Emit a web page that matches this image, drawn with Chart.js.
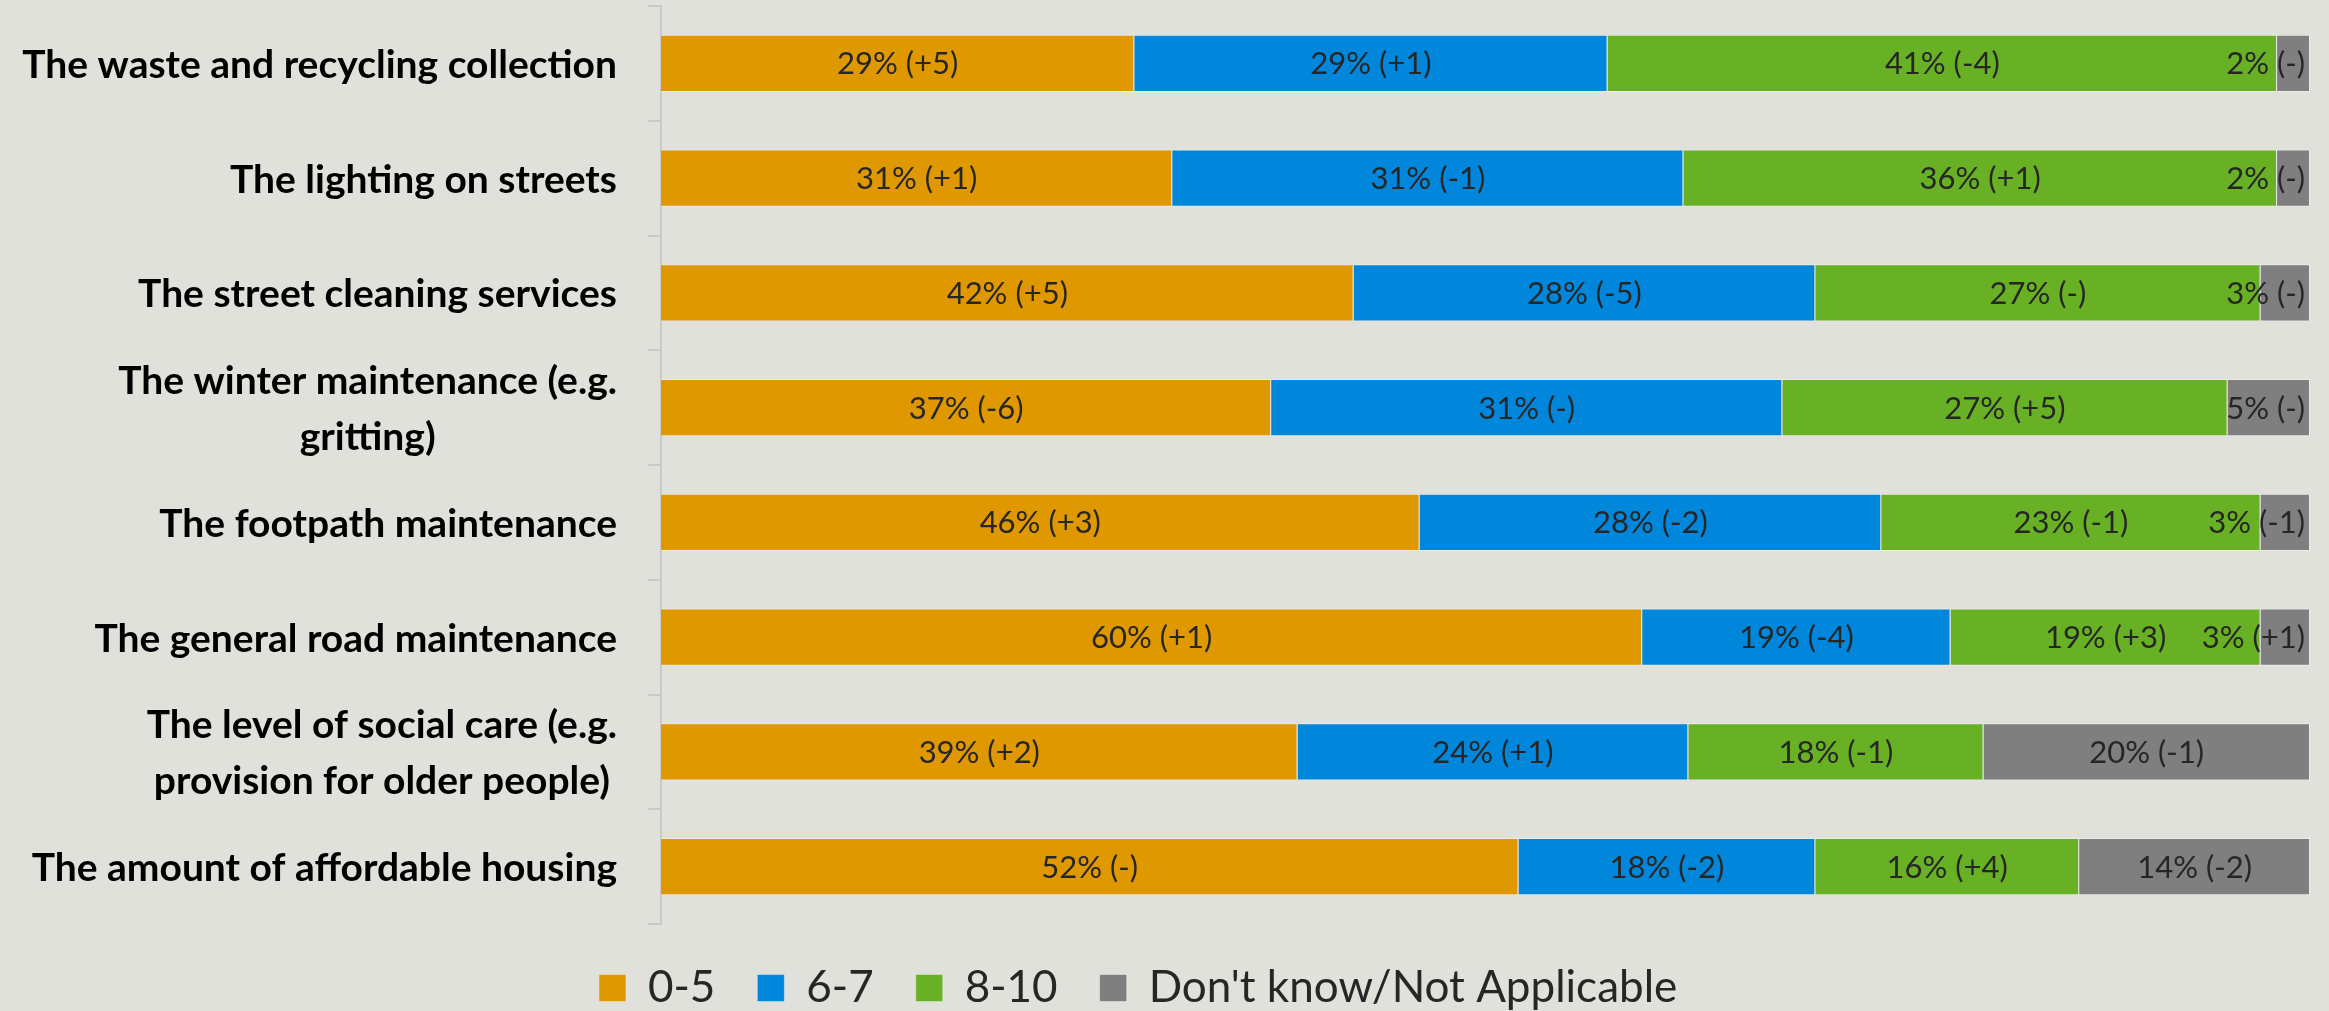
<!DOCTYPE html>
<html>
<head>
<meta charset="utf-8">
<script src="https://cdn.jsdelivr.net/npm/chart.js@4.4.1/dist/chart.umd.min.js"></script>
<style>
    html, body { margin: 0; padding: 0; background: #e0e1db; }
    #wrap { width: 2329px; height: 1011px; }
</style>
</head>
<body>
<div id="wrap"><canvas id="satisfactionChart"></canvas></div>
<script>
const categories = [
    'The waste and recycling collection',
    'The lighting on streets',
    'The street cleaning services',
    ['The winter maintenance (e.g.', 'gritting)'],
    'The footpath maintenance',
    'The general road maintenance',
    ['The level of social care (e.g.', 'provision for older people)'],
    'The amount of affordable housing'
];

const seriesNames = ['0-5', '6-7', '8-10', "Don't know/Not Applicable"];

const score0to5 = [28.7, 31.0, 42.0, 37.0, 46.0, 59.5, 38.6, 52.0];
const score6to7 = [28.7, 31.0, 28.0, 31.0, 28.0, 18.7, 23.7, 18.0];
const score8to10 = [40.6, 36.0, 27.0, 27.0, 23.0, 18.8, 17.9, 16.0];
const dontKnow = [2.0, 2.0, 3.0, 5.0, 3.0, 3.0, 19.8, 14.0];

// change since last survey, shown in brackets
const change0to5 = ['+5', '+1', '+5', '-6', '+3', '+1', '+2', '-'];
const change6to7 = ['+1', '-1', '-5', '-', '-2', '-4', '+1', '-2'];
const change8to10 = ['-4', '+1', '-', '+5', '-1', '+3', '-1', '+4'];
const changeDontKnow = ['-', '-', '-', '-', '-1', '+1', '-1', '-2'];

const colors = ['#e09800', '#0087db', '#68b024', '#7f7f7f'];

const labelFont = '31px Lato';
const categoryFont = 'bold 39px Lato';

const segmentLabels = {
    id: 'segmentLabels',
    afterDatasetsDraw(chart) {
        const ctx = chart.ctx;
        const area = chart.chartArea;
        ctx.save();
        ctx.font = labelFont;
        ctx.fillStyle = '#262626';
        ctx.textBaseline = 'middle';
        ctx.textAlign = 'left';
        chart.data.datasets.forEach((ds, i) => {
            const meta = chart.getDatasetMeta(i);
            meta.data.forEach((bar, j) => {
                const text = Math.round(ds.data[j]) + '% (' + ds.changes[j] + ')';
                const w = ctx.measureText(text).width;
                let x = (bar.x + bar.base) / 2 - w / 2;
                if (x + w > area.right - 5) {
                    x = area.right - 5 - w;
                }
                ctx.fillText(text, x, bar.y + 1);
            });
        });
        ctx.restore();
    }
};

// category names: block right aligned, lines centred on each other
const categoryLabels = {
    id: 'categoryLabels',
    afterDraw(chart) {
        const ctx = chart.ctx;
        const yScale = chart.scales.y;
        ctx.save();
        ctx.font = categoryFont;
        ctx.fillStyle = '#000000';
        ctx.textAlign = 'center';
        ctx.textBaseline = 'middle';
        const right = yScale.right - 44;
        const lineHeight = 56;
        categories.forEach((label, i) => {
            const lines = Array.isArray(label) ? label : [label];
            const maxW = Math.max(...lines.map(l => ctx.measureText(l).width));
            const cx = right - maxW / 2;
            const cy = yScale.getPixelForTick(i) + 2;
            lines.forEach((line, k) => {
                const y = cy + (k - (lines.length - 1) / 2) * lineHeight;
                ctx.fillText(line, cx, y);
            });
        });
        ctx.restore();
    }
};

const ctx = document.getElementById('satisfactionChart').getContext('2d');
new Chart(ctx, {
    type: 'bar',
    data: {
        labels: categories,
        datasets: [
            { label: seriesNames[0], data: score0to5, changes: change0to5, backgroundColor: colors[0] },
            { label: seriesNames[1], data: score6to7, changes: change6to7, backgroundColor: colors[1] },
            { label: seriesNames[2], data: score8to10, changes: change8to10, backgroundColor: colors[2] },
            { label: seriesNames[3], data: dontKnow, changes: changeDontKnow, backgroundColor: colors[3] }
        ].map(ds => Object.assign(ds, {
            borderColor: 'rgba(255,255,255,0.35)',
            borderWidth: 1,
            barPercentage: 0.5,
            categoryPercentage: 1.0
        }))
    },
    options: {
        indexAxis: 'y',
        responsive: true,
        maintainAspectRatio: false,
        animation: false,
        layout: {
            padding: { top: 6, right: 19, left: 0, bottom: -9 }
        },
        scales: {
            x: {
                stacked: true,
                min: 0,
                max: 100,
                display: false
            },
            y: {
                stacked: true,
                afterFit: (scale) => { scale.width = 661; },
                border: { color: '#c9c9c9', width: 2 },
                grid: {
                    offset: true,
                    drawOnChartArea: false,
                    drawTicks: true,
                    tickLength: 13,
                    color: '#c9c9c9',
                    lineWidth: 2
                },
                ticks: { display: false }
            }
        },
        plugins: {
            legend: {
                position: 'bottom',
                labels: {
                    boxWidth: 27,
                    boxHeight: 27,
                    padding: 42,
                    color: '#262626',
                    font: { family: 'Lato', size: 44 },
                    generateLabels: (chart) => {
                        const items = Chart.defaults.plugins.legend.labels.generateLabels(chart);
                        // nudge the row a little left, as in the original
                        items[items.length - 1].text += '   ';
                        return items;
                    }
                }
            },
            tooltip: { enabled: false }
        }
    },
    plugins: [segmentLabels, categoryLabels]
});
</script>
</body>
</html>
